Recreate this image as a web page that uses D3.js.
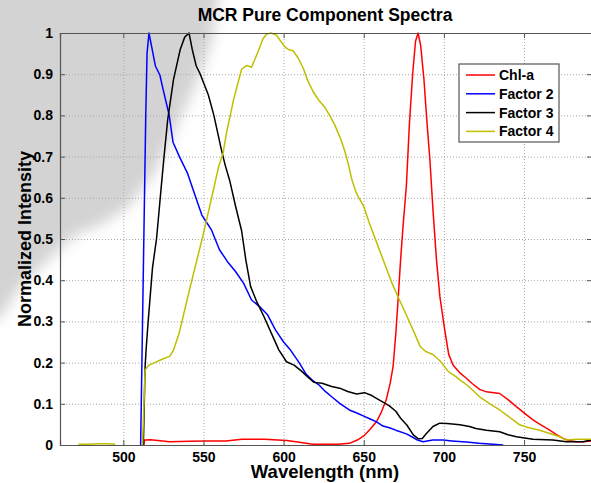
<!DOCTYPE html>
<html>
<head>
<meta charset="utf-8">
<script src="https://cdn.jsdelivr.net/npm/d3@7"></script>
<style>
  body { margin: 0; background: #fff; }
  svg text { font-family: "Liberation Sans", Arial, sans-serif; font-weight: bold; fill: #000; }
</style>
</head>
<body>
<div id="chart"></div>
<script>
// wavelength (nm), normalized intensity
var chlA = [[512.8,0],[513.3,0.012],[517,0.013],[529,0.008],[541,0.009],[552,0.01],[564,0.01],[574,0.014],[588,0.014],[602,0.011],[611,0.006],[618,0.002],[625,0.002],[634,0.002],[641,0.004],[646,0.012],[650,0.022],[654,0.038],[658,0.057],[661,0.08],[664,0.109],[666.5,0.15],[668.3,0.19],[670,0.27],[671.4,0.352],[673,0.45],[674.5,0.53],[676.6,0.63],[678.5,0.78],[680.5,0.9],[682.3,0.98],[683.9,1.0],[685.5,0.97],[687.5,0.89],[689.5,0.78],[691.2,0.696],[693.2,0.57],[695.3,0.453],[697.5,0.36],[700.5,0.28],[703,0.22],[705.7,0.194],[710,0.175],[714,0.162],[718,0.148],[722.3,0.135],[726.5,0.129],[734.8,0.125],[740,0.11],[745.2,0.093],[750,0.078],[755.6,0.061],[760,0.05],[766,0.036],[770,0.026],[774.3,0.016],[778,0.011],[782.6,0.008],[787,0.008],[792,0.01]];

var factor2 = [[510.8,0],[512,0.3],[513,0.55],[514,0.8],[514.8,0.95],[516,1.0],[518,0.96],[520,0.92],[522.8,0.898],[525,0.86],[528.6,0.801],[531,0.735],[535,0.70],[540,0.66],[545,0.603],[549,0.558],[552,0.54],[555,0.522],[560,0.474],[565,0.445],[570,0.421],[575,0.393],[580,0.352],[585,0.336],[590,0.316],[595,0.279],[600,0.25],[604,0.232],[610,0.198],[614,0.172],[618,0.157],[622,0.146],[626,0.13],[630,0.117],[635,0.101],[641,0.085],[646,0.077],[650,0.07],[654,0.063],[658,0.056],[662,0.046],[666,0.042],[670,0.036],[676.6,0.027],[680,0.02],[683.5,0.012],[687,0.008],[693,0.012],[699.5,0.012],[705,0.01],[714,0.007],[722,0.004],[730.6,0.002],[737,0]];

var factor3 = [[512.5,0],[513.6,0.19],[514.2,0.23],[515.5,0.3],[518.2,0.43],[520.7,0.5],[521.8,0.546],[523.5,0.62],[525.4,0.70],[527.7,0.79],[531.3,0.887],[535.5,0.96],[538.3,0.99],[541,1.0],[543,0.96],[545.5,0.92],[548,0.9],[553,0.85],[556.5,0.80],[561,0.72],[563.5,0.68],[566.5,0.64],[570,0.58],[573.8,0.52],[576.4,0.45],[579.4,0.385],[583,0.35],[587.7,0.312],[592.4,0.271],[597,0.231],[601.8,0.202],[606.5,0.194],[611,0.18],[615.9,0.162],[619,0.152],[624,0.15],[630,0.142],[635,0.138],[640,0.13],[645.5,0.124],[650.5,0.127],[655,0.12],[662,0.104],[666,0.095],[670,0.082],[673,0.065],[677,0.048],[680.8,0.025],[684,0.015],[686.5,0.016],[689.1,0.028],[693.2,0.045],[697.4,0.053],[702,0.052],[709.9,0.049],[716,0.045],[720,0.04],[726.5,0.036],[734.8,0.032],[740,0.025],[745.2,0.02],[755.6,0.014],[768,0.012],[776.4,0.008],[786.8,0.008],[792,0.012]];

// null marks the gap in the recorded spectrum
var factor4 = [[472,0.002],[478,0.002],[484,0.003],[490,0.003],[495,0.002],[503,null],[512,0],[513.6,0.182],[516,0.194],[519.5,0.2],[524.2,0.208],[528.9,0.215],[531.3,0.23],[534.8,0.271],[538.3,0.328],[541.8,0.385],[545.4,0.441],[549.8,0.51],[554.8,0.595],[559.5,0.676],[562.3,0.71],[564.5,0.76],[568.9,0.84],[573.8,0.912],[576.9,0.921],[580,0.917],[584.1,0.955],[587,0.985],[589.3,0.997],[592,1.0],[595.5,0.995],[598.2,0.98],[600.7,0.967],[603,0.96],[605.9,0.957],[609,0.94],[612.2,0.915],[615,0.885],[618.4,0.858],[621.7,0.838],[625.7,0.82],[628.7,0.8],[631.9,0.777],[635.8,0.741],[638.2,0.713],[640.5,0.68],[642.3,0.648],[645,0.615],[647,0.6],[650,0.579],[653.5,0.538],[658.2,0.49],[662.9,0.441],[667.6,0.393],[672.3,0.352],[677,0.312],[681.7,0.271],[685.2,0.239],[688.7,0.227],[693.4,0.219],[698.1,0.202],[702.8,0.178],[707.5,0.166],[710,0.158],[714.6,0.145],[722.3,0.117],[728.7,0.1],[734.8,0.085],[740,0.07],[747.3,0.049],[752,0.043],[759.7,0.036],[766,0.028],[772.2,0.02],[776.4,0.012],[783,0.014],[792,0.014]];

var seriesNames = ["Chl-a", "Factor 2", "Factor 3", "Factor 4"];
var seriesData = [chlA, factor2, factor3, factor4];
var seriesColors = ["#ff0000", "#0000ff", "#000000", "#bfbf00"];
var xTicks = [500, 550, 600, 650, 700, 750];
var yTicks = [0, 0.1, 0.2, 0.3, 0.4, 0.5, 0.6, 0.7, 0.8, 0.9, 1];

var W = 591, H = 483;
var plotL = 60, plotR = 592, plotT = 33, plotB = 445;

var svg = d3.select("#chart").append("svg")
      .attr("width", W)
      .attr("height", H);

var defs = svg.append("defs");
defs.append("filter")
      .attr("id", "soft")
      .attr("x", -0.2).attr("y", -0.2)
      .attr("width", 1.4).attr("height", 1.4)
      .append("feGaussianBlur")
      .attr("stdDeviation", 7);

svg.append("rect")
      .attr("width", W)
      .attr("height", H)
      .attr("fill", "#fff");

// grey smear in the upper left corner of the screenshot
var smear = [[-30,-30],[222,-30],[218,0],[212,40],[200,75],[177,125],[153,175],[127,208],[100,225],[75,235],[23,283],[0,318],[-30,330]];
svg.append("path")
      .attr("d", d3.line()(smear) + "Z")
      .attr("fill", "#d3d3d3")
      .attr("filter", "url(#soft)");

var x = d3.scaleLinear().domain([460.5, 792.4]).range([plotL, plotR]);
var y = d3.scaleLinear().domain([0, 1]).range([plotB, plotT]);

// grid
svg.append("g")
      .attr("class", "grid")
      .attr("transform", "translate(0," + plotB + ")")
      .call(d3.axisBottom(x).tickValues(xTicks).tickSize(-(plotB - plotT)).tickFormat(""));
svg.append("g")
      .attr("class", "grid")
      .attr("transform", "translate(" + plotL + ",0)")
      .call(d3.axisLeft(y).tickValues(yTicks).tickSize(-(plotR - plotL)).tickFormat(""));
svg.selectAll(".grid .domain").remove();
svg.selectAll(".grid line")
      .attr("stroke", "#a8a8a8")
      .attr("stroke-dasharray", "1,2");

// lines
var line = d3.line()
      .defined(function(d){ return d[1] !== null; })
      .x(function(d){ return x(d[0]); })
      .y(function(d){ return y(d[1]); });

defs.append("clipPath").attr("id", "plotClip")
      .append("rect")
      .attr("x", plotL).attr("y", plotT - 2)
      .attr("width", plotR - plotL).attr("height", plotB - plotT + 2);

svg.append("g")
      .attr("clip-path", "url(#plotClip)")
      .selectAll("path")
      .data(seriesData)
      .enter()
      .append("path")
      .attr("d", function(d){ return line(d); })
      .attr("fill", "none")
      .attr("stroke", function(d, i){ return seriesColors[i]; })
      .attr("stroke-width", 1.5)
      .attr("stroke-linejoin", "round");

// axes with inward ticks
var fmt = function(d){ return d === 0 ? "0" : d === 1 ? "1" : d3.format(".1f")(d); };

var xAxis = svg.append("g")
      .attr("transform", "translate(0," + plotB + ")")
      .call(d3.axisBottom(x).tickValues(xTicks).tickSize(-5).tickPadding(7));
var xTop = svg.append("g")
      .attr("transform", "translate(0," + plotT + ")")
      .call(d3.axisTop(x).tickValues(xTicks).tickSize(-5).tickFormat(""));
var yAxis = svg.append("g")
      .attr("transform", "translate(" + plotL + ",0)")
      .call(d3.axisLeft(y).tickValues(yTicks).tickSize(-5).tickPadding(7).tickFormat(fmt));
var yRight = svg.append("g")
      .attr("transform", "translate(" + plotR + ",0)")
      .call(d3.axisRight(y).tickValues(yTicks).tickSize(-5).tickFormat(""));

[xAxis, xTop, yAxis, yRight].forEach(function(g){
  g.selectAll(".domain").attr("stroke", "#555").attr("stroke-width", 1.2);
  g.selectAll(".tick line").attr("stroke", "#555");
  g.selectAll("text").attr("font-size", 14).attr("fill", "#000")
        .attr("font-family", "Liberation Sans, Arial, sans-serif")
        .attr("font-weight", "bold");
});

// titles
svg.append("text")
      .attr("x", 325)
      .attr("y", 21)
      .attr("text-anchor", "middle")
      .attr("font-size", 17.5)
      .text("MCR Pure Component Spectra");

svg.append("text")
      .attr("x", 325)
      .attr("y", 478)
      .attr("text-anchor", "middle")
      .attr("font-size", 18.5)
      .text("Wavelength (nm)");

svg.append("text")
      .attr("transform", "translate(31,239) rotate(-90)")
      .attr("text-anchor", "middle")
      .attr("font-size", 18)
      .text("Normalized Intensity");

// legend
var legend = svg.append("g").attr("transform", "translate(459,64)");
legend.append("rect")
      .attr("width", 100)
      .attr("height", 78)
      .attr("fill", "#fff")
      .attr("stroke", "#555")
      .attr("stroke-width", 1.2);
var items = legend.selectAll("g.item")
      .data(seriesNames)
      .enter()
      .append("g")
      .attr("class", "item")
      .attr("transform", function(d, i){ return "translate(0," + (11 + i * 18.8) + ")"; });
items.append("line")
      .attr("x1", 7).attr("x2", 36)
      .attr("stroke", function(d, i){ return seriesColors[i]; })
      .attr("stroke-width", 1.5);
items.append("text")
      .attr("x", 40)
      .attr("dy", "0.35em")
      .attr("font-size", 14)
      .text(function(d){ return d; });
</script>
</body>
</html>
